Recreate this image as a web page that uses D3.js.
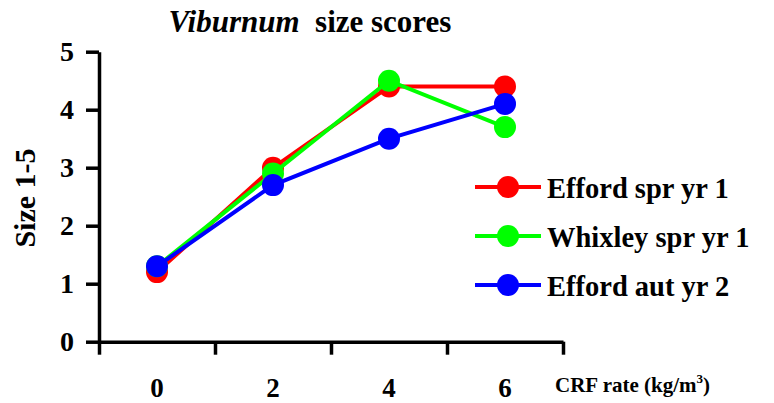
<!DOCTYPE html>
<html>
<head>
<meta charset="utf-8">
<script src="https://cdn.jsdelivr.net/npm/d3@7"></script>
<style>
  body { margin: 0; background: #fff; }
  svg { display: block; font-family: "Liberation Serif", "Times New Roman", serif; font-weight: bold; }
</style>
</head>
<body>
<svg id="chart" width="774" height="403"></svg>
<script>
// Viburnum size scores by CRF rate
var rates = ['0', '2', '4', '6'];
var effordSpr = [1.2, 3.0, 4.4, 4.4];
var whixleySpr = [1.3, 2.9, 4.5, 3.7];
var effordAut = [1.3, 2.7, 3.5, 4.1];
var yTicks = [0, 1, 2, 3, 4, 5];

var series = [
  { name: 'Efford spr yr 1', values: effordSpr, color: '#ff0000' },
  { name: 'Whixley spr yr 1', values: whixleySpr, color: '#00ff00' },
  { name: 'Efford aut yr 2', values: effordAut, color: '#0000ff' }
];

var svg = d3.select('#chart');
var plotLeft = 99, plotRight = 563, plotTop = 51.7, plotBottom = 341.7;

var x = d3.scaleBand().domain(rates).range([plotLeft, plotRight]);
var xEdge = d3.scaleLinear().domain([0, rates.length]).range([plotLeft, plotRight]);
var y = d3.scaleLinear().domain([0, 5]).range([plotBottom, plotTop]);

// Axes
var yAxis = svg.append('g')
  .attr('transform', 'translate(' + plotLeft + ',0)')
  .call(d3.axisLeft(y).tickValues(yTicks).tickFormat(d3.format('d'))
    .tickSize(13).tickSizeOuter(0).tickPadding(12));
yAxis.selectAll('line, path').attr('stroke', '#000').attr('stroke-width', 3.5);
yAxis.selectAll('text')
  .attr('font-family', '"Liberation Serif", serif')
  .attr('font-weight', 'bold')
  .attr('font-size', 28)
  .attr('fill', '#000');

var xAxis = svg.append('g')
  .attr('transform', 'translate(0,' + plotBottom + ')')
  .call(d3.axisBottom(xEdge).tickValues(d3.range(rates.length + 1)).tickSize(13).tickSizeOuter(0).tickFormat(''));
xAxis.selectAll('line, path').attr('stroke', '#000').attr('stroke-width', 3.5);

svg.append('g').selectAll('text')
  .data(rates)
  .enter().append('text')
    .attr('x', function(d) { return x(d) + x.bandwidth() / 2; })
    .attr('y', 397)
    .attr('text-anchor', 'middle')
    .attr('font-size', 27)
    .text(function(d) { return d; });

// Titles
var title = svg.append('text')
  .attr('x', 310)
  .attr('y', 32)
  .attr('text-anchor', 'middle')
  .attr('font-size', 31);
title.append('tspan').attr('font-style', 'italic').text('Viburnum');
title.append('tspan').attr('xml:space', 'preserve').text('  size scores');

svg.append('text')
  .attr('transform', 'translate(35,198) rotate(-90)')
  .attr('text-anchor', 'middle')
  .attr('font-size', 30)
  .text('Size 1-5');

var xTitle = svg.append('text')
  .attr('x', 555)
  .attr('y', 392)
  .attr('font-size', 21);
xTitle.append('tspan').text('CRF rate (kg/m');
xTitle.append('tspan').attr('dy', -9).attr('font-size', 13).text('3');
xTitle.append('tspan').attr('dy', 9).text(')');

// Lines and markers
var line = d3.line()
  .x(function(d, i) { return x(rates[i]) + x.bandwidth() / 2; })
  .y(function(d) { return y(d); });

var g = svg.append('g');
series.forEach(function(s) {
  g.append('path')
    .attr('d', line(s.values))
    .attr('fill', 'none')
    .attr('stroke', s.color)
    .attr('stroke-width', 4);
  g.selectAll(null)
    .data(s.values)
    .enter().append('circle')
      .attr('cx', function(d, i) { return x(rates[i]) + x.bandwidth() / 2; })
      .attr('cy', function(d) { return y(d); })
      .attr('r', 11)
      .attr('fill', s.color);
});

// Legend
var legend = svg.append('g').selectAll('g')
  .data(series)
  .enter().append('g')
    .attr('transform', function(d, i) { return 'translate(475,' + (187 + i * 49) + ')'; });
legend.append('line')
  .attr('x1', 0).attr('x2', 66)
  .attr('stroke', function(d) { return d.color; })
  .attr('stroke-width', 4);
legend.append('circle')
  .attr('cx', 33)
  .attr('r', 11)
  .attr('fill', function(d) { return d.color; });
legend.append('text')
  .attr('x', 72)
  .attr('y', 11)
  .attr('font-size', 28.5)
  .text(function(d) { return d.name; });
</script>
</body>
</html>
